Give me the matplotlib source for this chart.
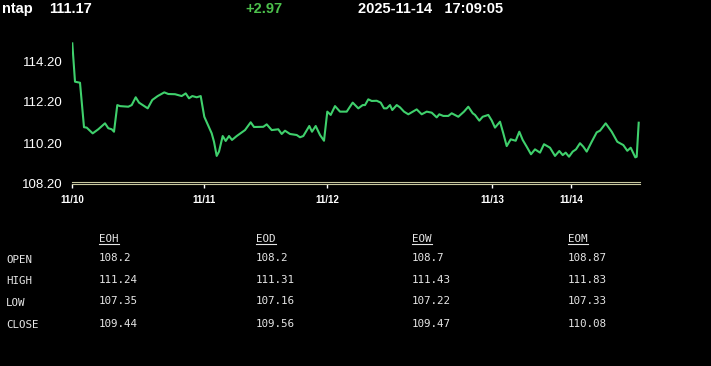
import matplotlib
matplotlib.use('Agg')
import matplotlib.pyplot as plt
from matplotlib.lines import Line2D

# header
symbol = 'ntap'
last = '111.17'
change = '+2.97'
stamp = '2025-11-14   17:09:05'

# intraday line (bar position, price)
bar = [0.3, 3, 8, 12, 14.7, 20.7, 26.3, 33, 36.3, 39.7, 42, 45.3, 48, 56.3, 59.7,
       63.7, 67, 75.7, 80.3, 85.7, 92.3, 96.3, 103, 109.7, 113.7, 117, 120.3, 124.7,
       128.7, 132.3, 139.7, 142, 144.7, 147, 150.7, 153.7, 157, 160, 164.7, 173,
       178.7, 182, 191.3, 194.7, 199.7, 206.3, 209.7, 213, 218, 224.7, 228, 231.3,
       237.3, 240, 243.7, 248, 252, 255.3, 258.7, 263, 268, 274.7, 280.7, 286.3,
       290.7, 293, 296.3, 299.7, 304.7, 308.7, 312, 314.7, 318, 320.3, 324.7, 328,
       332, 336.3, 344.7, 349.7, 354.7, 359.7, 364.7, 367.3, 371.3, 376.3, 379.7,
       386.3, 392, 396.3, 400.7, 403, 407.3, 410.7, 416.3, 419.7, 423, 428, 431.3,
       434.7, 438.7, 443.7, 447.3, 450.7, 454.7, 459, 463, 468, 472, 478, 483,
       487.3, 490.7, 493.7, 497, 500.7, 504, 508, 511.3, 514.7, 519.7, 524.7, 528,
       533.7, 539.7, 545.3, 551.3, 555.3, 558.7, 563.3, 564.7, 566.7]
price = [115.06, 113.19, 113.14, 110.97, 110.95, 110.67, 110.87, 111.16, 110.92,
         110.87, 110.75, 112.05, 112.0, 111.97, 112.05, 112.43, 112.17, 111.89,
         112.3, 112.49, 112.67, 112.59, 112.58, 112.49, 112.62, 112.38, 112.49,
         112.43, 112.49, 111.48, 110.67, 110.26, 109.57, 109.78, 110.54, 110.30,
         110.54, 110.35, 110.54, 110.83, 111.21, 110.98, 110.99, 111.11, 110.83,
         110.87, 110.64, 110.8, 110.64, 110.59, 110.48, 110.54, 111.03, 110.75,
         111.03, 110.59, 110.31, 111.73, 111.57, 112.0, 111.73, 111.73, 112.17,
         111.89, 112.05, 112.05, 112.33, 112.25, 112.26, 112.17, 111.89, 111.89,
         112.05, 111.81, 112.05, 111.94, 111.73, 111.6, 111.84, 111.6, 111.73,
         111.68, 111.45, 111.6, 111.52, 111.52, 111.65, 111.48, 111.73, 111.97,
         111.65, 111.57, 111.29, 111.48, 111.57, 111.3, 110.95, 111.24, 110.67,
         110.05, 110.38, 110.31, 110.75, 110.35, 110.02, 109.65, 109.89, 109.73,
         110.14, 109.97, 109.57, 109.81, 109.61, 109.73, 109.53, 109.78, 109.89,
         110.19, 110.02, 109.78, 110.26, 110.72, 110.8, 111.16, 110.75, 110.26,
         110.1, 109.82, 109.97, 109.5, 109.53, 111.19]

day_pos = [0, 132, 255, 420, 499]
day_labels = ['11/10', '11/11', '11/12', '11/13', '11/14']
yticks = [108.2, 110.2, 112.2, 114.2]

# end-of-period table
periods = ['EOH', 'EOD', 'EOW', 'EOM']
rows = ['OPEN', 'HIGH', 'LOW', 'CLOSE']
table = {
    'EOH': ['108.2', '111.24', '107.35', '109.44'],
    'EOD': ['108.2', '111.31', '107.16', '109.56'],
    'EOW': ['108.7', '111.43', '107.22', '109.47'],
    'EOM': ['108.87', '111.83', '107.33', '110.08'],
}

W, H = 711, 366
fig = plt.figure(figsize=(W / 100, H / 100), dpi=100, facecolor='black')
ax = fig.add_axes([72 / W, 1 - 184 / H, 568 / W, 143.5 / H], facecolor='black')

ax.plot(bar, price, color='#3fd06c', lw=1.5, solid_joinstyle='round')
ax.set_xlim(0, 568)
ax.set_ylim(108.2, 115.2)

for s in ax.spines.values():
    s.set_visible(False)
ax.plot([0, 1], [0, 0], transform=ax.transAxes, color='#c8c8a0', lw=0.8, clip_on=False)
ax.plot([0, 1], [0.014, 0.014], transform=ax.transAxes, color='#c8c8a0', lw=0.8, clip_on=False)

ax.set_yticks(yticks)
ax.set_yticklabels(['%.2f' % v for v in yticks], fontsize=9.5, color='white',
                   family='Liberation Sans')
ax.tick_params(axis='y', length=0, pad=7)
ax.set_xticks(day_pos)
ax.set_xticklabels(day_labels, fontsize=7, color='white', fontweight='bold',
                   family='Liberation Sans')
ax.tick_params(axis='x', color='white', length=3, width=1, pad=5)

# header line
hdr = dict(color='white', fontsize=10.5, fontweight='bold', family='Liberation Sans',
           va='center', transform=None)
fig.text(2, H - 9, symbol, **hdr)
fig.text(49, H - 9, last, **hdr)
fig.text(245, H - 9, change, **{**hdr, 'color': '#4cc04c'})
fig.text(358, H - 9, stamp, **hdr)

# table
mono = dict(color='#e6e6e6', fontsize=7.8, family='DejaVu Sans Mono', va='center',
            transform=None)
col_x = [99, 256, 412, 568]
label_y = [260, 281, 303, 325]
value_y = [258, 280, 301.5, 324]
heads = []
for cx, p in zip(col_x, periods):
    heads.append(fig.text(cx, H - 239, p, **mono))
    for vy, v in zip(value_y, table[p]):
        fig.text(cx, H - vy, v, **mono)
for ly, r in zip(label_y, rows):
    fig.text(6, H - ly, r, **mono)

fig.canvas.draw()
for t in heads:
    bb = t.get_window_extent()
    fig.add_artist(Line2D([bb.x0, bb.x1], [bb.y0 + 0.5, bb.y0 + 0.5], transform=None,
                          color='#e6e6e6', lw=0.8))

fig.savefig('out.png', dpi=100, facecolor='black')
